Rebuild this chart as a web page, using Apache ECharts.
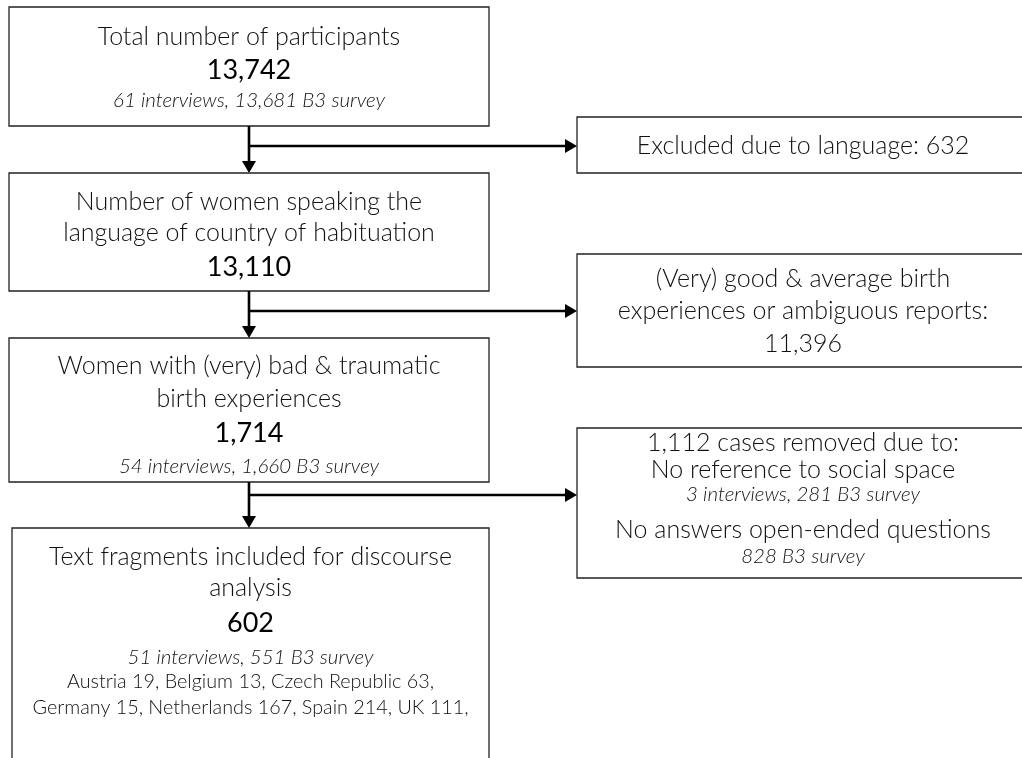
<!DOCTYPE html>
<html>
<head>
<meta charset="utf-8">
<script src="https://cdn.jsdelivr.net/npm/echarts@6/dist/echarts.min.js"></script>
<style>
  html, body { margin: 0; padding: 0; background: #fff; }
  #chart { width: 1022px; height: 758px; }
</style>
</head>
<body>
<div id="chart"></div>
<script>
// stages of the flow (left column)
var stageTitles = [
  ['Total number of participants'],
  ['Number of women speaking the', 'language of country of habituation'],
  ['Women with (very) bad & traumatic', 'birth experiences'],
  ['Text fragments included for discourse', 'analysis']
];
var stageCounts = ['13,742', '13,110', '1,714', '602'];
var stageDetails = ['61 interviews, 13,681 B3 survey', '', '54 interviews, 1,660 B3 survey', '51 interviews, 551 B3 survey'];
var countryLines = ['Austria 19, Belgium 13, Czech Republic 63,', 'Germany 15, Netherlands 167, Spain 214, UK 111,'];

// exclusions (right column); kind 'm' = main text, 'n' = italic note
var exclusionLines = [
  [['m', 'Excluded due to language: 632']],
  [['m', '(Very) good & average birth'], ['m', 'experiences or ambiguous reports:'], ['m', '11,396']],
  [['m', '1,112 cases removed due to:'], ['m', 'No reference to social space'], ['n', '3 interviews, 281 B3 survey'],
   ['m', 'No answers open-ended questions'], ['n', '828 B3 survey']]
];

(function () {
  // layout
  var leftBox = [[9, 7, 489, 126], [9, 173, 489, 291], [9, 338, 489, 482], [12, 528, 489, 790]];
  var leftLineY = [[37, 70, 100], [202, 233, 267], [366, 399, 433, 466], [557, 588, 623, 657, 682, 708]];
  var rightBox = [[577, 117, 1040, 173], [577, 254, 1040, 367], [577, 428, 1040, 578]];
  var rightLineY = [[146], [279, 311, 344], [443, 470, 494, 530, 556]];
  var branchY = [146, 311, 495];
  var stemX = 249;
  var rightCenterX = 803;

  var font = 'Lato, "Open Sans", sans-serif';
  var ink = '#111';
  var styles = {
    m: {fontSize: 25, fontWeight: 300, fontStyle: 'normal', fill: ink},
    c: {fontSize: 27, fontWeight: 400, fontStyle: 'normal', fill: '#000'},
    n: {fontSize: 20.5, fontWeight: 300, fontStyle: 'italic', fill: ink},
    k: {fontSize: 19.8, fontWeight: 300, fontStyle: 'normal', fill: ink}
  };

  var els = [];

  var boxEl = function (b) {
    els.push({
      type: 'rect',
      shape: {x: b[0], y: b[1], width: b[2] - b[0], height: b[3] - b[1]},
      style: {fill: '#fff', stroke: '#222', lineWidth: 1.3}
    });
  };

  var textEl = function (x, y, txt, kind) {
    var s = styles[kind];
    els.push({
      type: 'text',
      x: x, y: y,
      style: {
        text: txt, align: 'center', verticalAlign: 'middle',
        fontFamily: font, fontSize: s.fontSize, fontWeight: s.fontWeight, fontStyle: s.fontStyle,
        fill: s.fill
      },
      z: 10
    });
  };

  var arrowHead = function (tx, ty, dir) {
    var L = 12, W = 7, pts;
    if (dir === 'down') {
      pts = [[tx, ty], [tx - W, ty - L], [tx + W, ty - L]];
    } else {
      pts = [[tx, ty], [tx - L, ty - W], [tx - L, ty + W]];
    }
    els.push({type: 'polygon', shape: {points: pts}, style: {fill: '#000'}, z: 5});
  };

  var lineEl = function (x1, y1, x2, y2) {
    els.push({
      type: 'line',
      shape: {x1: x1, y1: y1, x2: x2, y2: y2},
      style: {stroke: '#000', lineWidth: 2.6},
      z: 4
    });
  };

  // left column boxes
  for (var i = 0; i < stageTitles.length; i++) {
    var b = leftBox[i];
    boxEl(b);
    var cx = (b[0] + b[2]) / 2;
    var ys = leftLineY[i];
    var k = 0;
    for (var j = 0; j < stageTitles[i].length; j++) {
      textEl(cx, ys[k++], stageTitles[i][j], 'm');
    }
    textEl(cx, ys[k++], stageCounts[i], 'c');
    if (stageDetails[i]) {
      textEl(cx, ys[k++], stageDetails[i], 'n');
    }
    if (i === stageTitles.length - 1) {
      for (var c = 0; c < countryLines.length; c++) {
        textEl(cx, ys[k++], countryLines[c], 'k');
      }
    }
  }

  // right column boxes
  for (var r = 0; r < exclusionLines.length; r++) {
    boxEl(rightBox[r]);
    for (var q = 0; q < exclusionLines[r].length; q++) {
      textEl(rightCenterX, rightLineY[r][q], exclusionLines[r][q][1], exclusionLines[r][q][0]);
    }
  }

  // connectors
  for (var a = 0; a < branchY.length; a++) {
    var boxBottom = leftBox[a][3];
    var nextTop = leftBox[a + 1][1];
    lineEl(stemX, boxBottom, stemX, nextTop - 10);
    arrowHead(stemX, nextTop, 'down');
    lineEl(stemX, branchY[a], rightBox[a][0] - 10, branchY[a]);
    arrowHead(rightBox[a][0], branchY[a], 'right');
  }

  var chart = echarts.init(document.getElementById('chart'));
  chart.setOption({
    backgroundColor: '#fff',
    animation: false,
    graphic: {elements: els}
  });
})();
</script>
</body>
</html>
